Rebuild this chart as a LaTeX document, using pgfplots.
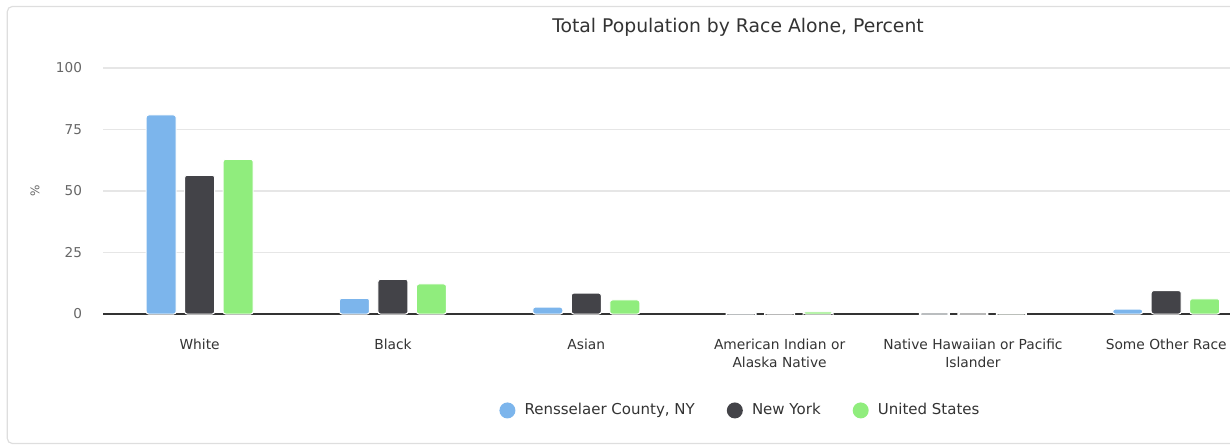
\documentclass[border=0pt]{standalone}
\usepackage{pgfplots}
\pgfplotsset{compat=1.18}
\usepackage{fontspec}
\setmainfont{DejaVu Sans}
\definecolor{cA}{HTML}{7CB5EC}
\definecolor{cB}{HTML}{434348}
\definecolor{cC}{HTML}{90ED7D}
\definecolor{gridc}{HTML}{E6E6E6}
\definecolor{framec}{HTML}{DEDEDE}
\definecolor{txt}{HTML}{333333}
\definecolor{lbl}{HTML}{666666}
\pgfplotstableread{
x rens ny us
0 80.9 56.4 62.9
1 6.4 14.1 12.2
2 2.8 8.5 5.7
3 0.2 0.4 0.9
4 0.03 0.04 0.2
5 2.0 9.5 6.2
}\racedata
\begin{document}
\begin{tikzpicture}
\path[use as bounding box] (0,0) rectangle (615pt,223pt);
\draw[framec, line width=0.6pt, rounded corners=2.5pt] (616pt,219.75pt) -- (3.65pt,219.75pt) -- (3.65pt,1.25pt) -- (616pt,1.25pt);
\node[text=txt, font=\fontsize{9.4}{11}\selectfont] at (369pt,209.5pt) {Total Population by Race Alone, Percent};
\begin{axis}[
  at={(51.5pt,66pt)}, anchor=south west,
  width=563.5pt, height=123pt, scale only axis,
  xmin=-0.5, xmax=5.33, ymin=0, ymax=100,
  ybar=4.25pt, bar width=15pt,
  axis x line*=bottom, axis y line*=left,
  x axis line style={draw=txt, line width=0.7pt},
  y axis line style={draw=none},
  tick style={draw=none},
  ymajorgrids, grid style={gridc, line width=0.6pt},
  ytick={0,25,50,75,100},
  xtick={0,1,2,3,4,5},
  xticklabels={White,Black,Asian,{American Indian or\\Alaska Native},{Native Hawaiian or Pacific\\Islander},Some Other Race},
  xticklabel style={align=center, text=txt, font=\fontsize{6.9}{9}\selectfont, yshift=-4.5pt},
  yticklabel style={text=lbl, font=\fontsize{6.8}{8}\selectfont, xshift=-7pt},
  /pgf/number format/assume math mode=true,
  ylabel={\%}, ylabel style={text=lbl, font=\fontsize{6}{7}\selectfont, anchor=center, at={(axis description cs:-0.0603,0.5)}},
  clip=false,
  legend columns=3,
  legend style={at={(0.5665,-0.392)}, anchor=center, draw=none, fill=none,
    font=\fontsize{7.5}{9}\selectfont, text=txt,
    /tikz/every odd column/.append style={column sep=2.6pt},
    /tikz/every even column/.append style={column sep=14pt}},
  legend image code/.code={\fill[#1,draw=none] (0pt,0pt) circle (4pt);},
]
\addplot[fill=cA, draw=white, line width=0.5pt, rounded corners=1.2pt] table[x=x,y=rens] {\racedata};
\addplot[fill=cB, draw=white, line width=0.5pt, rounded corners=1.2pt] table[x=x,y=ny] {\racedata};
\addplot[fill=cC, draw=white, line width=0.5pt, rounded corners=1.2pt] table[x=x,y=us] {\racedata};
\legend{Rensselaer County{,} NY, New York, United States}
\end{axis}
\end{tikzpicture}
\end{document}
